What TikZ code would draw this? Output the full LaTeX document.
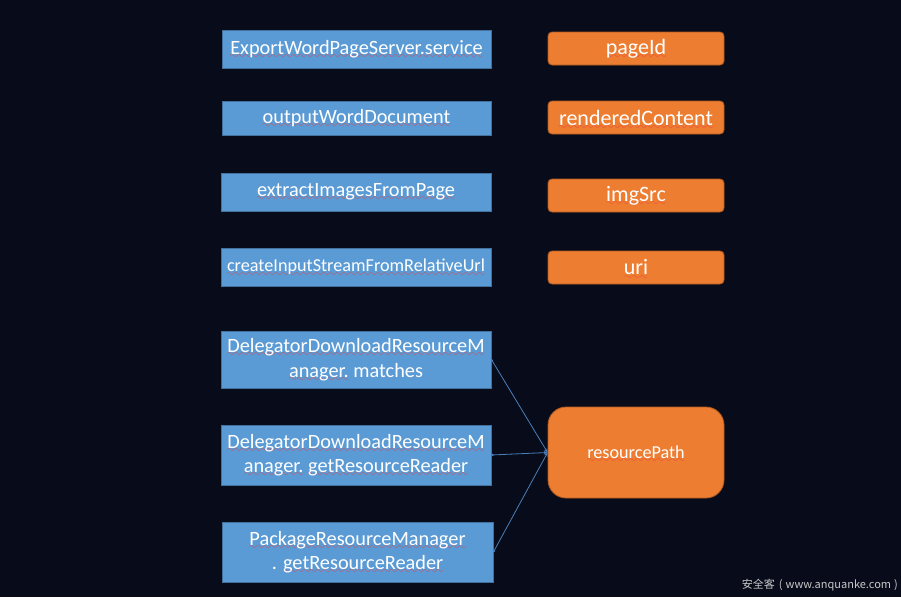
\documentclass[tikz,border=0pt]{standalone}
\usepackage{fontspec}
\setmainfont{Carlito}
\newfontfamily\cjk{Noto Sans CJK SC}
\usetikzlibrary{arrows.meta}
\definecolor{bgc}{HTML}{080C1A}
\definecolor{bfill}{HTML}{5B9BD5}
\definecolor{bdraw}{HTML}{41719C}
\definecolor{ofill}{HTML}{ED7D31}
\definecolor{odraw}{HTML}{AE5A21}
\definecolor{sqred}{HTML}{F03C3C}
\definecolor{wmark}{HTML}{C8C8C8}
\definecolor{lnc}{HTML}{4A7EBB}
\font\sqfont=lasy10
\newcommand\sq[1]{\setbox0\hbox{#1}\leavevmode\rlap{\raisebox{-4.2pt}[0pt][0pt]{\color{sqred}\hbox to \wd0{\xleaders\hbox{\sqfont\char58}\hfil}}}\box0\relax}
\tikzset{
  bluebox/.style={draw=bdraw, fill=bfill, line width=0.8pt, text=white, align=center, inner sep=0pt},
  orangebox/.style={draw=odraw, fill=ofill, line width=0.8pt, text=white, align=center, inner sep=0pt, rounded corners=4pt, minimum width=176pt, minimum height=33pt},
  bt/.style={font=\fontsize{20.3}{24.5}\selectfont},
  ot/.style={font=\fontsize{22}{24}\selectfont},
  link/.style={draw=lnc, line width=0.8pt, {Circle[length=2.2pt]}-{Stealth[length=4pt,width=3.5pt]}}
}
\begin{document}
\begin{tikzpicture}[x=1pt,y=-1pt]
\useasboundingbox (0,0) rectangle (901,597);
\fill[bgc] (0,0) rectangle (901,597);
% left blue boxes
\node[bluebox,bt,minimum width=269pt,minimum height=38pt] (b1) at (356.5,49) {\sq{ExportWordPageServer.service}};
\node[bluebox,bt,minimum width=269pt,minimum height=34pt] (b2) at (356.5,118) {\sq{outputWordDocument}};
\node[bluebox,bt,minimum width=270pt,minimum height=38pt] (b3) at (356,192) {\sq{extractImagesFromPage}};
\node[bluebox,font=\fontsize{18.2}{24}\selectfont,minimum width=270pt,minimum height=38pt] (b4) at (356,267) {\sq{createInputStreamFromRelativeUrl}};
\node[bluebox,bt,minimum width=270pt,minimum height=57pt] (b5) at (356,359.5) {\sq{DelegatorDownloadResourceM}\\\sq{anager.} matches};
\node[bluebox,bt,minimum width=270pt,minimum height=60pt] (b6) at (356,455) {\sq{DelegatorDownloadResourceM}\\\sq{anager.} \sq{getResourceReader}};
\node[bluebox,bt,minimum width=271pt,minimum height=60pt] (b7) at (357.5,552) {\sq{PackageResourceManager}\\. \sq{getResourceReader}};
% right orange boxes
\node[orangebox,ot] (o1) at (636,48.5) {\sq{pageId}};
\node[orangebox,ot] (o2) at (636,117.5) {\sq{renderedContent}};
\node[orangebox,ot] (o3) at (636,195.5) {\sq{imgSrc}};
\node[orangebox,ot] (o4) at (636,267.5) {\sq{uri}};
\node[orangebox,font=\fontsize{18.2}{22}\selectfont,rounded corners=18pt,minimum height=91pt] (rp) at (636,452.5) {\sq{resourcePath}};
% connectors
\draw[link] (b5.east) -- (rp.west);
\draw[link] (b6.east) -- (rp.west);
\draw[link] (b7.east) -- (rp.west);
% watermark
\node[text=wmark,anchor=east,inner sep=0pt,font=\cjk\fontsize{11}{14}\selectfont] (wm) at (898,585) {安全客\hspace{4pt}(\hspace{3pt}www.anquanke.com\hspace{3pt})};
\end{tikzpicture}
\end{document}
